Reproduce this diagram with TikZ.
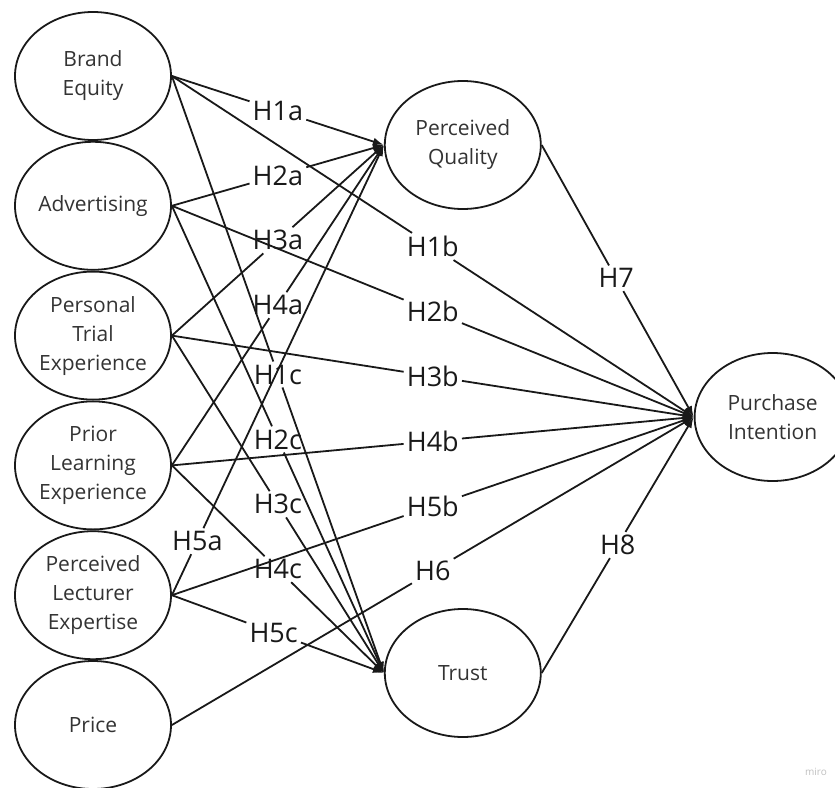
\documentclass[tikz,border=0pt]{standalone}
\usepackage{fontspec}
\setmainfont{Open Sans}
\usetikzlibrary{shapes.geometric, arrows.meta, positioning}

\begin{document}
\begin{tikzpicture}[
    x=1pt, y=1pt,
    construct/.style={ellipse, draw=black!90, line width=1.8pt, minimum width=156pt, minimum height=128pt, inner xsep=-6pt, inner ysep=0pt, align=center, text=black!80, font=\fontsize{21}{29}\selectfont},
    hyp/.style={inner sep=3pt, text=black!90, font=\fontsize{27}{32}\selectfont},
    arrow/.style={draw=black!90, line width=1.8pt, -{Latex[length=11pt, width=8pt]}}
  ]
    \useasboundingbox (0,0) rectangle (835,-787);

    % Exogenous constructs
    \node[construct] at (93,-76) (brand) {Brand\\Equity};
    \node[construct, below=0pt of brand] (adv) {Advertising};
    \node[construct, below=0pt of adv] (trial) {Personal\\Trial\\Experience};
    \node[construct, below=0pt of trial] (prior) {Prior\\Learning\\Experience};
    \node[construct, below=0pt of prior] (lecturer) {Perceived\\Lecturer\\Expertise};
    \node[construct, below=0pt of lecturer] (price) {Price};

    % Mediators and outcome
    \node[construct, right=212pt of brand, yshift=-69pt] (quality) {Perceived\\Quality};
    \node[construct, right=212pt of price, yshift=52pt] (trust) {Trust};
    \node[construct, right=152pt of quality, yshift=-272pt] (intent) {Purchase\\Intention};

    % Hypothesis labels
    \path (brand.east) -- node[hyp] (h1a) {H1a} (quality.west);
    \path (brand.east) -- node[hyp] (h1b) {H1b} (intent.west);
    \path (brand.east) -- node[hyp] (h1c) {H1c} (trust.west);
    \path (adv.east) -- node[hyp] (h2a) {H2a} (quality.west);
    \path (adv.east) -- node[hyp] (h2b) {H2b} (intent.west);
    \path (adv.east) -- node[hyp] (h2c) {H2c} (trust.west);
    \path (trial.east) -- node[hyp] (h3a) {H3a} (quality.west);
    \path (trial.east) -- node[hyp] (h3b) {H3b} (intent.west);
    \path (trial.east) -- node[hyp] (h3c) {H3c} (trust.west);
    \path (prior.east) -- node[hyp] (h4a) {H4a} (quality.west);
    \path (prior.east) -- node[hyp] (h4b) {H4b} (intent.west);
    \path (prior.east) -- node[hyp] (h4c) {H4c} (trust.west);
    \path (lecturer.east) -- node[hyp, pos=.12] (h5a) {H5a} (quality.west);
    \path (lecturer.east) -- node[hyp] (h5b) {H5b} (intent.west);
    \path (lecturer.east) -- node[hyp, pos=.48] (h5c) {H5c} (trust.west);
    \path (price.east) -- node[hyp] (h6) {H6} (intent.west);
    \path (quality.east) -- node[hyp, pos=.49] (h7) {H7} (intent.west);
    \path (trust.east) -- node[hyp] (h8) {H8} (intent.west);

    % Arrows
    \draw[arrow] (brand.east) -- (h1a) -- (quality.west);
    \draw[arrow] (brand.east) -- (h1b) -- (intent.west);
    \draw[arrow] (brand.east) -- (h1c) -- (trust.west);
    \draw[arrow] (adv.east) -- (h2a) -- (quality.west);
    \draw[arrow] (adv.east) -- (h2b) -- (intent.west);
    \draw[arrow] (adv.east) -- (h2c) -- (trust.west);
    \draw[arrow] (trial.east) -- (h3a) -- (quality.west);
    \draw[arrow] (trial.east) -- (h3b) -- (intent.west);
    \draw[arrow] (trial.east) -- (h3c) -- (trust.west);
    \draw[arrow] (prior.east) -- (h4a) -- (quality.west);
    \draw[arrow] (prior.east) -- (h4b) -- (intent.west);
    \draw[arrow] (prior.east) -- (h4c) -- (trust.west);
    \draw[arrow] (lecturer.east) -- (h5a) -- (quality.west);
    \draw[arrow] (lecturer.east) -- (h5b) -- (intent.west);
    \draw[arrow] (lecturer.east) -- (h5c) -- (trust.west);
    \draw[arrow] (price.east) -- (h6) -- (intent.west);
    \draw[arrow] (quality.east) -- (h7) -- (intent.west);
    \draw[arrow] (trust.east) -- (h8) -- (intent.west);

    % Watermark
    \node[text=black!25, font=\fontsize{10}{12}\selectfont] at (816,-772) (miro) {miro};
  \end{tikzpicture}
\end{document}
